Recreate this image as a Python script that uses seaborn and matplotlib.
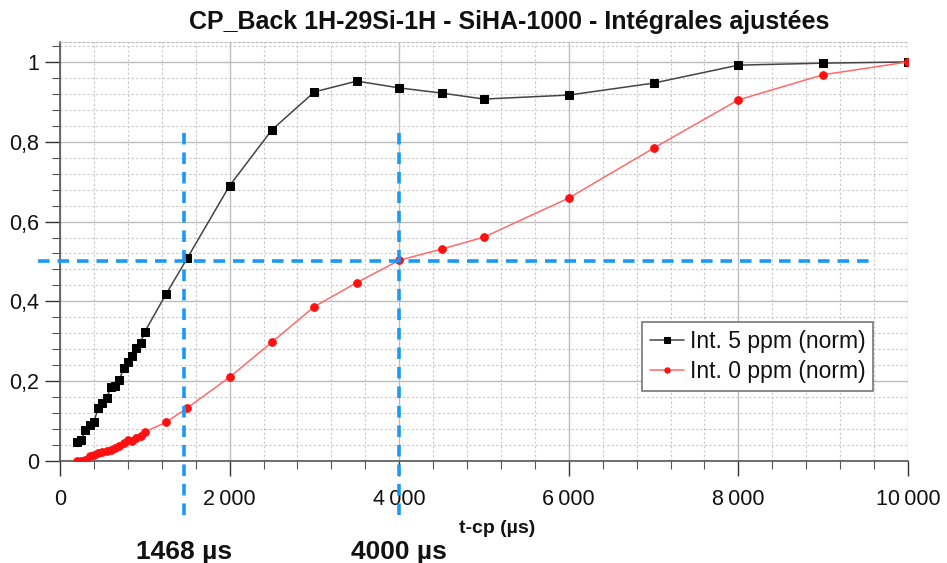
import numpy as np
import pandas as pd
import matplotlib
matplotlib.use('Agg')
import matplotlib.pyplot as plt
from matplotlib.ticker import MultipleLocator, FuncFormatter
import seaborn as sns

# contact times (µs)
t_cp = [200, 250, 300, 350, 400, 450, 500, 550, 600, 650, 700, 750, 800, 850,
        900, 950, 1000, 1250, 1500, 2000, 2500, 3000, 3500, 4000, 4500, 5000,
        6000, 7000, 8000, 9000, 10000]

# normalised integrals
int_5ppm = [0.048, 0.053, 0.078, 0.090, 0.098, 0.133, 0.145, 0.158, 0.185, 0.188,
            0.203, 0.233, 0.248, 0.263, 0.283, 0.296, 0.324, 0.418, 0.508, 0.690,
            0.830, 0.925, 0.952, 0.935, 0.922, 0.907, 0.917, 0.947, 0.992, 0.997, 1.0]
int_0ppm = [0.0, 0.0, 0.003, 0.012, 0.016, 0.020, 0.022, 0.025, 0.028, 0.032,
            0.038, 0.045, 0.053, 0.050, 0.058, 0.063, 0.073, 0.097, 0.133, 0.210,
            0.298, 0.387, 0.447, 0.503, 0.531, 0.561, 0.659, 0.784, 0.905, 0.968, 1.0]

series_names = ['Int. 5 ppm (norm)', 'Int. 0 ppm (norm)']

# half-rise times and level
t_half = [1468, 4000]
half_labels = ['1468 µs', '4000 µs']
half_level = 0.5

sns.set_style('white')
plt.rcParams['font.family'] = ['Liberation Sans', 'DejaVu Sans']
plt.rcParams['text.color'] = '#111111'

fig = plt.figure(figsize=(9.47, 5.63), dpi=100)
ax = fig.add_axes([60 / 947, 102 / 563, 848 / 947, 419 / 563])

df5 = pd.DataFrame({'t': t_cp, 'v': int_5ppm})
df0 = pd.DataFrame({'t': t_cp, 'v': int_0ppm})

sns.lineplot(data=df5, x='t', y='v', ax=ax, color='#444444', lw=1.1,
             marker='s', markersize=5.5, markerfacecolor='black',
             markeredgecolor='black', label=series_names[0], zorder=4)
sns.lineplot(data=df0, x='t', y='v', ax=ax, color='#ff6a6a', lw=1.1,
             marker='o', markersize=5.5, markerfacecolor='#ff1010',
             markeredgecolor='#ff1010', label=series_names[1], zorder=4)

ax.set_xlim(0, 10000)
ax.set_ylim(0, 1.05)

ax.xaxis.set_major_locator(MultipleLocator(2000))
ax.xaxis.set_minor_locator(MultipleLocator(400))
ax.yaxis.set_major_locator(MultipleLocator(0.2))
ax.yaxis.set_minor_locator(MultipleLocator(0.04))

ax.xaxis.set_major_formatter(FuncFormatter(
    lambda v, p: f'{int(v):,}'.replace(',', '\u2009')))
ax.yaxis.set_major_formatter(FuncFormatter(
    lambda v, p: ('%g' % round(v, 2)).replace('.', ',')))

ax.grid(which='major', color='#bdbdbd', lw=1.0, ls='-')
ax.grid(which='minor', color='#c8c8c8', lw=0.8, ls=(0, (2, 2)))
ax.set_axisbelow(True)

ax.tick_params(axis='both', which='major', labelsize=15.5, colors='#333333',
               labelcolor='#111111')
ax.tick_params(axis='x', which='major', direction='out', length=11, width=1, pad=9,
               bottom=True)
ax.tick_params(axis='x', which='minor', direction='out', length=6, width=0.8,
               bottom=True, color='#555555')
ax.tick_params(axis='y', which='major', direction='out', length=11, width=1, pad=4,
               left=True)
ax.tick_params(axis='y', which='minor', direction='out', length=6, width=0.8,
               left=True, color='#555555')

ax.spines['right'].set_visible(False)
ax.spines['top'].set_color('#bbbbbb')
ax.spines['top'].set_linestyle((0, (2, 2)))
ax.spines['left'].set_color('#555555')
ax.spines['bottom'].set_color('#555555')
ax.spines['left'].set_linewidth(1.2)
ax.spines['bottom'].set_linewidth(1.2)

ax.set_xlabel('t-cp (µs)', fontsize=14, fontweight='bold', color='#111111')
ax.xaxis.set_label_coords(0.515, -0.14)
ax.set_ylabel('')

ax.set_title('CP_Back 1H-29Si-1H - SiHA-1000 - Intégrales ajustées',
             fontsize=18, fontweight='bold', pad=9, x=0.53, color='#111111')

# blue guide lines
blue = '#1a9af5'
dash = (0, (3.2, 2.2))
for t in t_half:
    ax.plot([t, t], [-0.135, 0.84], color=blue, lw=2.6, ls=dash,
            clip_on=False, zorder=5)
ax.plot([-260, 9550], [half_level, half_level], color=blue, lw=2.6, ls=dash,
        clip_on=False, zorder=5)

for t, lab in zip(t_half, half_labels):
    ax.text(t, -0.228, lab, ha='center', va='center', fontsize=19,
            fontweight='bold', transform=ax.transData, clip_on=False)

leg = ax.legend(loc='upper left', bbox_to_anchor=(0.686, 0.332), fontsize=16.5,
                frameon=True, fancybox=False, framealpha=1, edgecolor='#777777',
                handlelength=1.5, borderpad=0.35, labelspacing=0.3,
                handletextpad=0.25, borderaxespad=0, markerscale=0.7)
leg.get_frame().set_linewidth(1.2)
for txt in leg.get_texts():
    txt.set_color('#111111')

fig.savefig('out.png', dpi=100)
